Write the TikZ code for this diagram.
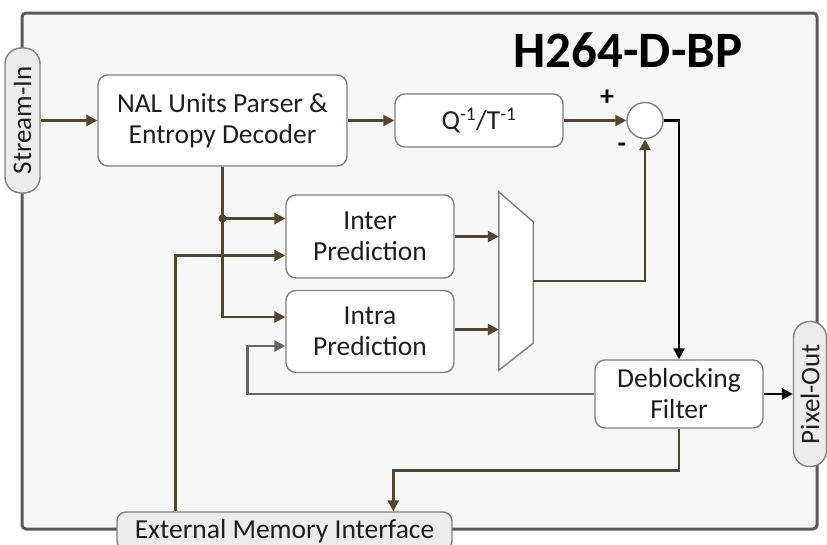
\documentclass[tikz,border=0pt]{standalone}
\usepackage{fontspec}
\setmainfont{Carlito}
\usetikzlibrary{arrows.meta,calc}
\definecolor{conn}{RGB}{80,72,46}
\definecolor{fbgray}{RGB}{100,100,100}
\definecolor{boxgray}{RGB}{128,128,128}
\definecolor{framegray}{RGB}{90,90,90}
\definecolor{txt}{RGB}{30,30,30}
\definecolor{pillfill}{RGB}{236,236,236}
\definecolor{bgfill}{RGB}{247,247,247}
\begin{document}
\begin{tikzpicture}[x=1pt,y=-1pt,
  block/.style={draw=boxgray, line width=1.4pt, fill=white, rounded corners=10pt,
    font=\fontsize{27.5}{31}\selectfont, text=txt, align=center, inner sep=0pt},
  pill/.style={draw=boxgray, line width=1.4pt, fill=pillfill, rounded corners=16pt,
    font=\fontsize{27}{31}\selectfont, text=txt, inner sep=0pt, rotate=90},
  wire/.style={conn, line width=2.6pt, -{Triangle[length=11pt,width=11pt]}},
  fbwire/.style={fbgray, line width=2.6pt, -{Triangle[length=11pt,width=11pt]}},
  blkwire/.style={black, line width=2.6pt, -{Triangle[length=11pt,width=11pt]}},
  plainwire/.style={conn, line width=2.6pt}
]
\useasboundingbox (0,0) rectangle (827,544);
% frame
\node[draw=framegray, line width=3pt, fill=bgfill, rounded corners=4pt,
      minimum width=795pt, minimum height=516pt, inner sep=0pt] (frame) at (419.5,271) {};
% title
\node[font=\bfseries\fontsize{51}{60}\selectfont, text=black, inner sep=0pt] (title) at (628,50) {H264-D-BP};
% ports
\node[pill, minimum width=145pt, minimum height=35pt] (sin) at (22.5,120.5) {Stream-In};
\node[pill, minimum width=145pt, minimum height=33pt] (pout) at (810,394) {Pixel-Out};
\node[draw=boxgray, line width=1.4pt, fill=pillfill, rounded corners=9pt,
      font=\fontsize{27.5}{31}\selectfont, text=txt, inner sep=0pt,
      minimum width=335pt, minimum height=38pt] (emi) at (284.5,531) {External Memory Interface};
% blocks
\node[block, minimum width=249pt, minimum height=91pt] (nal) at (222.5,120.5) {NAL Units Parser \&\\Entropy Decoder};
\node[block, minimum width=168pt, minimum height=53pt] (q) at (479,120.5) {Q\textsuperscript{-1}/T\textsuperscript{-1}};
\node[circle, draw=boxgray, line width=1.4pt, fill=white, minimum size=36pt, inner sep=0pt] (sum) at (645,120.5) {};
\node[font=\bfseries\fontsize{28}{30}\selectfont, inner sep=0pt] (plus) at (607,98) {+};
\node[font=\bfseries\fontsize{28}{30}\selectfont, inner sep=0pt] (minus) at (622,148) {-};
\node[block, minimum width=168pt, minimum height=83pt] (inter) at (370,236.5) {Inter\\Prediction};
\node[block, minimum width=168pt, minimum height=82pt] (intra) at (370,331.5) {Intra\\Prediction};
\node[block, minimum width=168pt, minimum height=68pt] (dbf) at (679,394) {Deblocking\\Filter};
% mux
\node[minimum width=34pt, minimum height=178pt, inner sep=0pt] (mux) at (516,281) {};
\draw[boxgray, line width=1.4pt, fill=white] (mux.north west) -- ($(mux.north east)+(0,30)$)
  -- ($(mux.south east)+(0,-27)$) -- (mux.south west) -- cycle;
% connectors
\draw[wire] (sin.south) -- (nal.west);
\draw[wire] (nal.east) -- (q.west);
\draw[wire] (q.east) -- (sum.west);
\draw[blkwire] (sum.east) -| (dbf.north);
\draw[blkwire] (dbf.east) -- (pout.north);
\coordinate (interA) at ($(inter.west)+(0,-18)$);
\coordinate (interB) at ($(inter.west)+(0,19)$);
\coordinate (intraA) at ($(intra.west)+(0,-14.5)$);
\coordinate (intraB) at ($(intra.west)+(0,14.5)$);
\coordinate (junc) at (nal.south |- interA);
\draw[wire] (nal.south) |- (intraA);
\draw[wire] (junc) -- (interA);
\fill[conn] (junc) circle (4pt);
\coordinate (emiup) at ($(emi.north west)+(59,0)$);
\draw[wire] (emiup) |- (interB);
\coordinate (fbcorner) at ($(intraB)+(-38,0)$);
\draw[fbwire] (dbf.west) -| (fbcorner) -- (intraB);
\coordinate (emidown) at ($(emi.north west)+(277,0)$);
\draw[wire] (dbf.south) -- ++(0,42) -| (emidown);
\draw[wire] (inter.east) -- (inter.east -| mux.west);
\draw[wire] ($(intra.east)+(0,-2)$) -- ($(intra.east -| mux.west)+(0,-2)$);
\draw[wire] (mux.east) -| (sum.south);
\end{tikzpicture}
\end{document}
